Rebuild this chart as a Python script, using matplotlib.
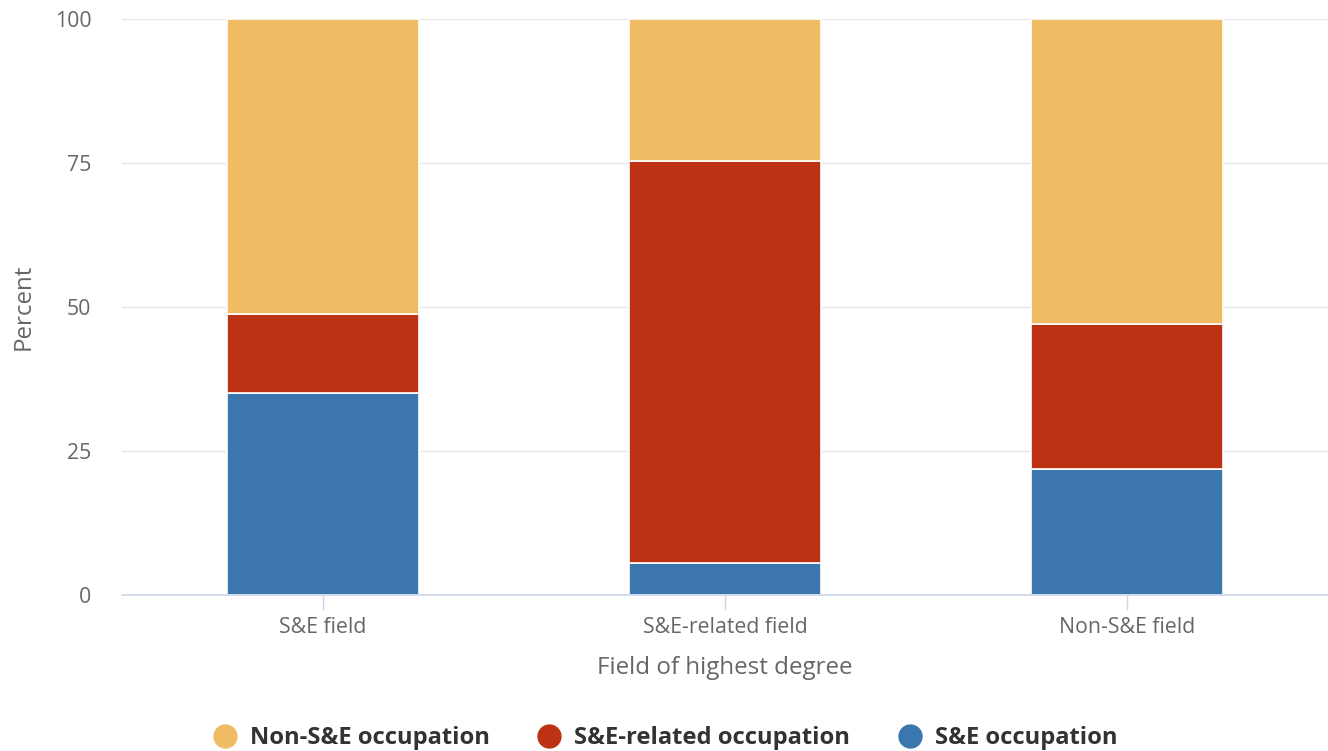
import matplotlib
matplotlib.use("Agg")
import matplotlib.pyplot as plt
from matplotlib.lines import Line2D

plt.rcParams['font.family'] = ['Open Sans', 'DejaVu Sans']

categories = ["S&E field", "S&E-related field", "Non-S&E field"]
se_occ = [35.1, 5.5, 21.9]
se_related_occ = [13.7, 69.8, 25.1]
non_se_occ = [51.2, 24.7, 53.0]
series_names = ["Non-S&E occupation", "S&E-related occupation", "S&E occupation"]
colors = {"Non-S&E occupation": "#F0BC63",
          "S&E-related occupation": "#BE3214",
          "S&E occupation": "#3B76AF"}
yticks = [0, 25, 50, 75, 100]

W, H = 1328, 751
fig = plt.figure(figsize=(W / 100, H / 100), dpi=100)
ax = fig.add_axes([122 / W, 1 - 595 / H, (1328 - 122) / W, (595 - 19) / H])

x = list(range(len(categories)))
bw = 0.478
bottom1 = se_occ
bottom2 = [a + b for a, b in zip(se_occ, se_related_occ)]
ax.bar(x, se_occ, width=bw, color=colors["S&E occupation"], edgecolor="white", linewidth=1.2, zorder=3)
ax.bar(x, se_related_occ, bottom=bottom1, width=bw, color=colors["S&E-related occupation"], edgecolor="white", linewidth=1.2, zorder=3)
ax.bar(x, non_se_occ, bottom=bottom2, width=bw, color=colors["Non-S&E occupation"], edgecolor="white", linewidth=1.2, zorder=3)

ax.set_xlim(-0.5, len(categories) - 0.5)
ax.set_ylim(0, 100)
ax.set_yticks(yticks)
ax.set_yticklabels([str(v) for v in yticks])
ax.set_xticks(x)
ax.set_xticklabels(categories)

ax.grid(axis="y", color="#e6e6e6", linewidth=1, zorder=0)
ax.set_axisbelow(True)
for s in ["top", "right", "left"]:
    ax.spines[s].set_visible(False)
ax.spines["bottom"].set_color("#ccd6eb")
ax.spines["bottom"].set_linewidth(1.2)
ax.spines["bottom"].set_zorder(4)

ax.tick_params(axis="y", length=0, pad=22, labelsize=15.3, labelcolor="#666666")
ax.tick_params(axis="x", length=11, width=1, color="#ccd6eb", pad=4.5, labelsize=15.3, labelcolor="#666666")

ax.set_xlabel("Field of highest degree", fontsize=17.4, color="#666666", labelpad=13.5)
ax.set_ylabel("Percent", fontsize=17.4, color="#666666", labelpad=14)

handles = [Line2D([0], [0], marker="o", linestyle="none", markersize=16.5,
                  markerfacecolor=colors[n], markeredgecolor=colors[n]) for n in series_names]
leg = fig.legend(handles, series_names, loc="center", bbox_to_anchor=(0.5, 1 - 738 / H),
                 ncol=3, frameon=False, handletextpad=0.45, columnspacing=1.9,
                 handlelength=1.2, prop={"weight": "bold", "size": 17.1})
for t in leg.get_texts():
    t.set_color("#333333")

fig.savefig("out.png", dpi=100)
